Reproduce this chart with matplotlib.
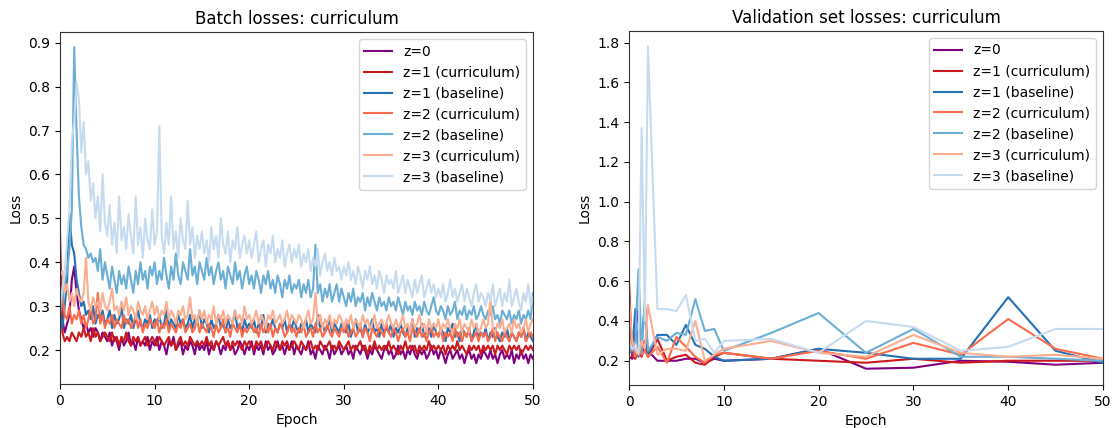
import numpy as np
import matplotlib
matplotlib.use("Agg")
import matplotlib.pyplot as plt

# ---------------- data ----------------
labels = ["z=0", "z=1 (curriculum)", "z=1 (baseline)", "z=2 (curriculum)",
          "z=2 (baseline)", "z=3 (curriculum)", "z=3 (baseline)"]
colors = ["#800080", "#cb181d", "#2171b5", "#fb6a4a", "#6baed6", "#fcae91", "#c6dbef"]

# batch losses, sampled every quarter epoch from 0 to 50
batch_z0 = [0.25, 0.27, 0.24, 0.26, 0.28, 0.36, 0.39, 0.33, 0.29, 0.27, 0.25, 0.26, 0.24, 0.25, 0.23, 0.25, 0.24, 0.22, 0.24, 0.23,
            0.22, 0.24, 0.21, 0.23, 0.22, 0.20, 0.23, 0.21, 0.22, 0.24, 0.21, 0.22, 0.20, 0.23, 0.21, 0.22, 0.21, 0.23, 0.20, 0.22,
            0.21, 0.23, 0.20, 0.22, 0.21, 0.19, 0.22, 0.21, 0.23, 0.20, 0.21, 0.22, 0.19, 0.21, 0.20, 0.22, 0.21, 0.19, 0.22, 0.20,
            0.21, 0.20, 0.22, 0.19, 0.21, 0.20, 0.22, 0.21, 0.19, 0.21, 0.20, 0.22, 0.20, 0.21, 0.19, 0.20, 0.22, 0.21, 0.19, 0.21,
            0.20, 0.22, 0.19, 0.21, 0.20, 0.21, 0.19, 0.22, 0.20, 0.21, 0.19, 0.20, 0.22, 0.20, 0.21, 0.19, 0.21, 0.20, 0.22, 0.19,
            0.21, 0.20, 0.19, 0.21, 0.20, 0.22, 0.19, 0.20, 0.18, 0.21, 0.20, 0.19, 0.21, 0.20, 0.18, 0.21, 0.19, 0.20, 0.21, 0.19,
            0.20, 0.21, 0.19, 0.20, 0.18, 0.21, 0.20, 0.19, 0.21, 0.20, 0.18, 0.20, 0.19, 0.21, 0.20, 0.19, 0.18, 0.20, 0.21, 0.19,
            0.20, 0.18, 0.19, 0.21, 0.19, 0.20, 0.18, 0.20, 0.19, 0.21, 0.19, 0.18, 0.20, 0.19, 0.20, 0.18, 0.19, 0.21, 0.19, 0.20,
            0.18, 0.20, 0.19, 0.17, 0.19, 0.20, 0.18, 0.19, 0.20, 0.18, 0.19, 0.17, 0.19, 0.20, 0.18, 0.19, 0.17, 0.19, 0.18, 0.20,
            0.19, 0.18, 0.20, 0.18, 0.19, 0.17, 0.19, 0.20, 0.18, 0.19, 0.18, 0.20, 0.17, 0.19, 0.18, 0.20, 0.18, 0.19, 0.17, 0.19,
            0.18]
batch_z1c = [0.47, 0.24, 0.22, 0.23, 0.22, 0.24, 0.23, 0.22, 0.24, 0.23, 0.25, 0.23, 0.24, 0.22, 0.25, 0.23, 0.24, 0.22, 0.23, 0.24,
             0.23, 0.22, 0.24, 0.22, 0.23, 0.21, 0.23, 0.22, 0.24, 0.22, 0.21, 0.23, 0.22, 0.23, 0.21, 0.22, 0.23, 0.21, 0.22, 0.23,
             0.22, 0.21, 0.23, 0.22, 0.21, 0.22, 0.23, 0.21, 0.22, 0.20, 0.22, 0.23, 0.21, 0.22, 0.21, 0.23, 0.22, 0.21, 0.22, 0.21,
             0.22, 0.21, 0.23, 0.21, 0.22, 0.20, 0.22, 0.21, 0.22, 0.23, 0.21, 0.22, 0.20, 0.22, 0.21, 0.22, 0.21, 0.20, 0.22, 0.21,
             0.22, 0.21, 0.20, 0.22, 0.21, 0.22, 0.20, 0.21, 0.22, 0.21, 0.20, 0.22, 0.21, 0.20, 0.22, 0.21, 0.22, 0.20, 0.21, 0.22,
             0.21, 0.20, 0.22, 0.21, 0.20, 0.21, 0.22, 0.20, 0.21, 0.20, 0.22, 0.21, 0.20, 0.21, 0.22, 0.20, 0.21, 0.20, 0.22, 0.21,
             0.20, 0.21, 0.22, 0.20, 0.21, 0.20, 0.21, 0.22, 0.20, 0.21, 0.19, 0.21, 0.20, 0.22, 0.20, 0.21, 0.20, 0.21, 0.20, 0.22,
             0.20, 0.21, 0.20, 0.19, 0.21, 0.20, 0.22, 0.20, 0.21, 0.20, 0.21, 0.19, 0.21, 0.20, 0.21, 0.20, 0.22, 0.20, 0.21, 0.20,
             0.21, 0.20, 0.21, 0.19, 0.21, 0.20, 0.21, 0.20, 0.22, 0.20, 0.21, 0.20, 0.19, 0.21, 0.20, 0.21, 0.20, 0.21, 0.19, 0.21,
             0.20, 0.21, 0.20, 0.21, 0.19, 0.21, 0.20, 0.21, 0.20, 0.19, 0.21, 0.20, 0.21, 0.20, 0.21, 0.19, 0.20, 0.21, 0.20, 0.21,
             0.20]
batch_z1b = [0.28, 0.25, 0.30, 0.36, 0.51, 0.44, 0.42, 0.36, 0.33, 0.30, 0.31, 0.28, 0.29, 0.27, 0.30, 0.26, 0.28, 0.27, 0.29, 0.26,
             0.27, 0.29, 0.25, 0.28, 0.26, 0.27, 0.30, 0.25, 0.27, 0.26, 0.28, 0.25, 0.27, 0.29, 0.26, 0.25, 0.27, 0.26, 0.28, 0.25,
             0.27, 0.26, 0.28, 0.25, 0.26, 0.29, 0.25, 0.27, 0.26, 0.25, 0.28, 0.26, 0.27, 0.25, 0.26, 0.28, 0.25, 0.27, 0.26, 0.29,
             0.25, 0.27, 0.26, 0.24, 0.27, 0.25, 0.26, 0.28, 0.25, 0.26, 0.24, 0.27, 0.25, 0.26, 0.29, 0.25, 0.26, 0.24, 0.27, 0.25,
             0.26, 0.25, 0.27, 0.24, 0.26, 0.25, 0.28, 0.24, 0.26, 0.25, 0.27, 0.25, 0.24, 0.26, 0.25, 0.27, 0.24, 0.26, 0.25, 0.27,
             0.25, 0.24, 0.26, 0.25, 0.27, 0.24, 0.26, 0.25, 0.24, 0.28, 0.25, 0.26, 0.24, 0.25, 0.27, 0.24, 0.26, 0.25, 0.24, 0.26,
             0.25, 0.24, 0.26, 0.23, 0.25, 0.27, 0.24, 0.25, 0.23, 0.26, 0.24, 0.25, 0.27, 0.24, 0.25, 0.23, 0.26, 0.24, 0.25, 0.24,
             0.26, 0.23, 0.25, 0.24, 0.26, 0.24, 0.23, 0.25, 0.24, 0.27, 0.23, 0.25, 0.24, 0.26, 0.23, 0.24, 0.25, 0.23, 0.26, 0.24,
             0.23, 0.25, 0.24, 0.22, 0.25, 0.24, 0.26, 0.23, 0.24, 0.22, 0.25, 0.24, 0.23, 0.25, 0.22, 0.24, 0.26, 0.23, 0.24, 0.23,
             0.25, 0.22, 0.24, 0.23, 0.25, 0.23, 0.22, 0.24, 0.23, 0.25, 0.22, 0.24, 0.23, 0.22, 0.24, 0.23, 0.25, 0.22, 0.24, 0.23,
             0.22]
batch_z2c = [0.30, 0.33, 0.28, 0.27, 0.30, 0.26, 0.28, 0.27, 0.29, 0.26, 0.28, 0.25, 0.27, 0.30, 0.26, 0.27, 0.33, 0.26, 0.28, 0.25,
             0.27, 0.26, 0.28, 0.25, 0.27, 0.26, 0.25, 0.28, 0.26, 0.27, 0.25, 0.26, 0.28, 0.25, 0.27, 0.24, 0.26, 0.25, 0.27, 0.26,
             0.25, 0.27, 0.24, 0.26, 0.25, 0.27, 0.24, 0.26, 0.25, 0.24, 0.26, 0.25, 0.27, 0.24, 0.25, 0.26, 0.24, 0.25, 0.27, 0.24,
             0.26, 0.25, 0.24, 0.26, 0.25, 0.23, 0.26, 0.24, 0.25, 0.27, 0.24, 0.25, 0.23, 0.26, 0.25, 0.24, 0.26, 0.23, 0.25, 0.24,
             0.25, 0.26, 0.24, 0.25, 0.23, 0.26, 0.24, 0.25, 0.24, 0.26, 0.23, 0.25, 0.24, 0.26, 0.25, 0.23, 0.24, 0.26, 0.24, 0.25,
             0.23, 0.25, 0.24, 0.26, 0.23, 0.24, 0.25, 0.23, 0.26, 0.24, 0.25, 0.23, 0.24, 0.26, 0.24, 0.23, 0.25, 0.24, 0.23, 0.25,
             0.24, 0.26, 0.23, 0.24, 0.25, 0.23, 0.24, 0.26, 0.23, 0.25, 0.24, 0.22, 0.25, 0.24, 0.23, 0.25, 0.24, 0.23, 0.26, 0.24,
             0.23, 0.25, 0.24, 0.22, 0.24, 0.25, 0.23, 0.24, 0.22, 0.25, 0.24, 0.23, 0.25, 0.23, 0.24, 0.22, 0.24, 0.25, 0.23, 0.24,
             0.23, 0.25, 0.22, 0.24, 0.23, 0.24, 0.22, 0.25, 0.23, 0.24, 0.22, 0.24, 0.23, 0.25, 0.22, 0.23, 0.24, 0.22, 0.24, 0.23,
             0.24, 0.22, 0.23, 0.25, 0.22, 0.24, 0.23, 0.22, 0.24, 0.23, 0.22, 0.24, 0.23, 0.22, 0.24, 0.23, 0.25, 0.22, 0.23, 0.24,
             0.23]
batch_z2b = [0.28, 0.32, 0.35, 0.38, 0.43, 0.52, 0.89, 0.70, 0.55, 0.48, 0.44, 0.43, 0.41, 0.42, 0.40, 0.41, 0.38, 0.43, 0.36, 0.40,
             0.37, 0.34, 0.39, 0.36, 0.33, 0.38, 0.35, 0.37, 0.34, 0.39, 0.36, 0.33, 0.38, 0.35, 0.40, 0.36, 0.38, 0.34, 0.39, 0.37,
             0.40, 0.35, 0.38, 0.36, 0.41, 0.37, 0.34, 0.39, 0.36, 0.42, 0.37, 0.35, 0.40, 0.38, 0.36, 0.43, 0.37, 0.39, 0.35, 0.40,
             0.38, 0.36, 0.41, 0.37, 0.39, 0.35, 0.38, 0.40, 0.36, 0.38, 0.34, 0.39, 0.37, 0.35, 0.40, 0.36, 0.38, 0.34, 0.37, 0.39,
             0.35, 0.37, 0.34, 0.38, 0.36, 0.33, 0.37, 0.35, 0.38, 0.34, 0.36, 0.33, 0.37, 0.35, 0.32, 0.36, 0.34, 0.37, 0.33, 0.35,
             0.34, 0.36, 0.32, 0.35, 0.33, 0.36, 0.32, 0.34, 0.44, 0.33, 0.35, 0.31, 0.34, 0.32, 0.35, 0.31, 0.33, 0.35, 0.31, 0.34,
             0.32, 0.30, 0.33, 0.31, 0.34, 0.30, 0.32, 0.31, 0.33, 0.29, 0.32, 0.30, 0.33, 0.31, 0.29, 0.32, 0.30, 0.31, 0.29, 0.32,
             0.30, 0.31, 0.29, 0.32, 0.30, 0.28, 0.31, 0.29, 0.30, 0.28, 0.31, 0.29, 0.30, 0.28, 0.31, 0.29, 0.28, 0.30, 0.32, 0.29,
             0.28, 0.30, 0.29, 0.27, 0.30, 0.28, 0.29, 0.31, 0.27, 0.29, 0.28, 0.30, 0.27, 0.29, 0.28, 0.30, 0.27, 0.28, 0.30, 0.28,
             0.27, 0.29, 0.28, 0.30, 0.27, 0.28, 0.26, 0.29, 0.28, 0.27, 0.29, 0.26, 0.28, 0.27, 0.29, 0.26, 0.28, 0.27, 0.29, 0.27,
             0.33]
batch_z3c = [0.37, 0.38, 0.33, 0.35, 0.31, 0.33, 0.30, 0.34, 0.32, 0.31, 0.33, 0.41, 0.31, 0.29, 0.32, 0.30, 0.31, 0.29, 0.33, 0.30,
             0.29, 0.31, 0.34, 0.29, 0.30, 0.28, 0.31, 0.29, 0.32, 0.28, 0.30, 0.29, 0.27, 0.31, 0.29, 0.28, 0.30, 0.27, 0.29, 0.31,
             0.28, 0.30, 0.27, 0.29, 0.28, 0.31, 0.27, 0.29, 0.28, 0.26, 0.29, 0.28, 0.30, 0.27, 0.28, 0.32, 0.27, 0.28, 0.26, 0.29,
             0.27, 0.29, 0.26, 0.28, 0.27, 0.30, 0.26, 0.28, 0.27, 0.29, 0.26, 0.28, 0.27, 0.26, 0.29, 0.27, 0.28, 0.26, 0.30, 0.27,
             0.28, 0.26, 0.27, 0.29, 0.26, 0.28, 0.27, 0.25, 0.28, 0.27, 0.29, 0.26, 0.27, 0.28, 0.26, 0.27, 0.29, 0.26, 0.28, 0.27,
             0.26, 0.28, 0.27, 0.25, 0.27, 0.29, 0.26, 0.27, 0.33, 0.26, 0.28, 0.25, 0.27, 0.26, 0.28, 0.25, 0.27, 0.26, 0.28, 0.27,
             0.25, 0.27, 0.26, 0.28, 0.25, 0.27, 0.26, 0.25, 0.28, 0.26, 0.27, 0.25, 0.26, 0.28, 0.25, 0.26, 0.27, 0.25, 0.26, 0.28,
             0.26, 0.25, 0.27, 0.25, 0.26, 0.28, 0.25, 0.26, 0.24, 0.27, 0.25, 0.26, 0.28, 0.25, 0.26, 0.24, 0.27, 0.25, 0.26, 0.25,
             0.27, 0.24, 0.26, 0.25, 0.27, 0.25, 0.24, 0.26, 0.25, 0.27, 0.24, 0.26, 0.25, 0.24, 0.27, 0.25, 0.26, 0.24, 0.25, 0.27,
             0.25, 0.26, 0.32, 0.25, 0.24, 0.26, 0.25, 0.27, 0.24, 0.25, 0.26, 0.24, 0.27, 0.25, 0.26, 0.24, 0.25, 0.27, 0.24, 0.26,
             0.27]
batch_z3b = [0.30, 0.34, 0.38, 0.45, 0.52, 0.68, 0.72, 0.81, 0.77, 0.65, 0.72, 0.60, 0.63, 0.54, 0.58, 0.50, 0.55, 0.47, 0.60, 0.49,
             0.46, 0.53, 0.44, 0.49, 0.42, 0.55, 0.45, 0.48, 0.43, 0.51, 0.46, 0.42, 0.55, 0.44, 0.48, 0.41, 0.50, 0.45, 0.43, 0.52,
             0.44, 0.47, 0.71, 0.46, 0.42, 0.49, 0.44, 0.55, 0.43, 0.47, 0.41, 0.50, 0.45, 0.43, 0.54, 0.44, 0.48, 0.41, 0.46, 0.43,
             0.47, 0.42, 0.45, 0.40, 0.48, 0.43, 0.46, 0.41, 0.50, 0.44, 0.42, 0.47, 0.40, 0.45, 0.43, 0.48, 0.41, 0.44, 0.46, 0.42,
             0.45, 0.41, 0.44, 0.47, 0.40, 0.43, 0.45, 0.39, 0.44, 0.42, 0.46, 0.40, 0.43, 0.41, 0.45, 0.39, 0.42, 0.44, 0.40, 0.43,
             0.41, 0.44, 0.39, 0.42, 0.40, 0.43, 0.38, 0.41, 0.39, 0.43, 0.37, 0.40, 0.42, 0.38, 0.40, 0.37, 0.41, 0.38, 0.39, 0.36,
             0.39, 0.37, 0.40, 0.36, 0.38, 0.35, 0.39, 0.37, 0.34, 0.38, 0.36, 0.39, 0.35, 0.37, 0.34, 0.38, 0.36, 0.33, 0.37, 0.35,
             0.36, 0.34, 0.38, 0.33, 0.35, 0.37, 0.33, 0.36, 0.34, 0.32, 0.36, 0.33, 0.35, 0.37, 0.32, 0.34, 0.36, 0.33, 0.35, 0.32,
             0.34, 0.32, 0.35, 0.31, 0.33, 0.36, 0.32, 0.34, 0.31, 0.33, 0.35, 0.31, 0.34, 0.32, 0.30, 0.33, 0.35, 0.31, 0.33, 0.32,
             0.30, 0.33, 0.31, 0.35, 0.30, 0.32, 0.34, 0.30, 0.33, 0.31, 0.36, 0.30, 0.32, 0.34, 0.31, 0.29, 0.33, 0.31, 0.35, 0.30,
             0.32]

val_epochs = [0, 0.33, 0.67, 1.0, 1.33, 1.67, 2.0, 3, 4, 5, 6, 7, 8, 9, 10,
              15, 20, 25, 30, 35, 40, 45, 50]
val_z0 = [0.22, 0.21, 0.35, 0.46, 0.25, 0.30, 0.25, 0.20, 0.20, 0.20, 0.21, 0.21,
          0.19, 0.21, 0.20, 0.21, 0.26, 0.16, 0.165, 0.20, 0.195, 0.18, 0.19]
val_z1c = [0.60, 0.22, 0.21, 0.25, 0.22, 0.28, 0.22, 0.31, 0.20, 0.22, 0.23, 0.19,
           0.18, 0.22, 0.24, 0.21, 0.20, 0.19, 0.21, 0.19, 0.20, 0.20, 0.20]
val_z1b = [0.25, 0.24, 0.46, 0.22, 0.30, 0.48, 0.23, 0.33, 0.33, 0.28, 0.38, 0.28,
           0.26, 0.22, 0.20, 0.21, 0.26, 0.24, 0.21, 0.21, 0.52, 0.25, 0.19]
val_z2c = [0.23, 0.30, 0.22, 0.27, 0.23, 0.25, 0.22, 0.27, 0.19, 0.32, 0.27, 0.22,
           0.19, 0.23, 0.24, 0.21, 0.25, 0.21, 0.29, 0.23, 0.41, 0.26, 0.21]
val_z2b = [0.28, 0.25, 0.30, 0.66, 0.24, 0.50, 0.25, 0.32, 0.30, 0.34, 0.33, 0.51,
           0.35, 0.36, 0.25, 0.34, 0.44, 0.24, 0.36, 0.22, 0.22, 0.21, 0.20]
val_z3c = [0.51, 0.30, 0.25, 0.23, 0.30, 0.26, 0.48, 0.23, 0.26, 0.26, 0.25, 0.40,
           0.20, 0.23, 0.26, 0.30, 0.24, 0.22, 0.33, 0.24, 0.22, 0.23, 0.21]
val_z3b = [0.30, 0.26, 0.27, 0.24, 1.37, 0.40, 1.78, 0.46, 0.46, 0.45, 0.53, 0.30,
           0.31, 0.24, 0.30, 0.31, 0.24, 0.40, 0.37, 0.25, 0.27, 0.36, 0.36]

batch_series = [batch_z0, batch_z1c, batch_z1b, batch_z2c, batch_z2b, batch_z3c, batch_z3b]
val_series = [val_z0, val_z1c, val_z1b, val_z2c, val_z2b, val_z3c, val_z3b]

# ---------------- figure ----------------
W, H = 1113, 428
fig = plt.figure(figsize=(W / 100, H / 100), dpi=100)

def px_axes(x0, x1, ytop, ybot):
    return fig.add_axes([x0 / W, (H - ybot) / H, (x1 - x0) / W, (ybot - ytop) / H])

ax1 = px_axes(60, 533, 32, 384)
ax2 = px_axes(629, 1103, 31, 385)

for ys, lab, c in zip(batch_series, labels, colors):
    ep = np.linspace(0, 50, len(ys))
    ax1.plot(ep, ys, color=c, lw=1.5, label=lab)
for ys, lab, c in zip(val_series, labels, colors):
    ax2.plot(val_epochs, ys, color=c, lw=1.5, label=lab)

ax1.set_xlim(0, 50)
ax1.set_ylim(0.1226, 0.9244)
ax1.set_yticks([0.2, 0.3, 0.4, 0.5, 0.6, 0.7, 0.8, 0.9])
ax1.set_title("Batch losses: curriculum", fontsize=12)

ax2.set_xlim(0, 50)
ax2.set_ylim(0.078, 1.859)
ax2.set_yticks([0.2, 0.4, 0.6, 0.8, 1.0, 1.2, 1.4, 1.6, 1.8])
ax2.set_title("Validation set losses: curriculum", fontsize=12)

for ax in (ax1, ax2):
    ax.set_xticks([0, 10, 20, 30, 40, 50])
    ax.set_xlabel("Epoch", fontsize=10)
    ax.set_ylabel("Loss", fontsize=10)
    ax.tick_params(labelsize=10)
    for s in ax.spines.values():
        s.set_color("#333333")
    ax.legend(loc="upper right", fontsize=10)

fig.savefig("out.png", dpi=100)
